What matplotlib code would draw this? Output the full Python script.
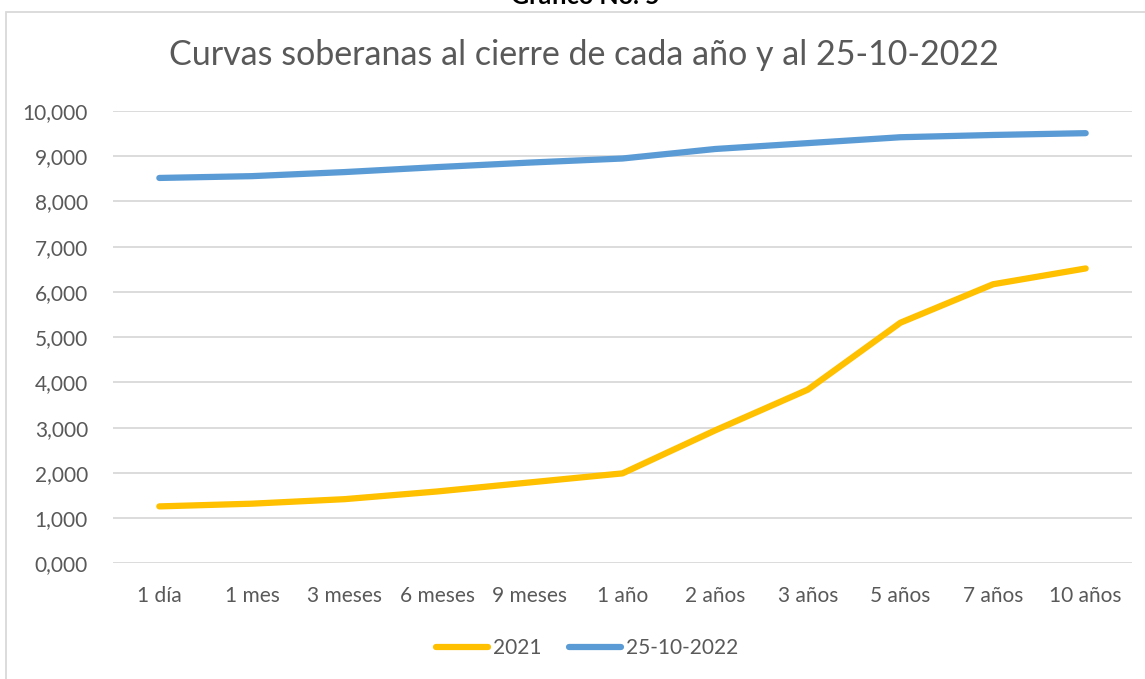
import matplotlib.pyplot as plt
from matplotlib.patches import Rectangle
from matplotlib.ticker import FuncFormatter

plt.rcParams['font.family'] = ['Lato', 'DejaVu Sans']

# Datos
plazos = ['1 día', '1 mes', '3 meses', '6 meses', '9 meses', '1 año',
          '2 años', '3 años', '5 años', '7 años', '10 años']
curva_2021 = [1.26, 1.32, 1.42, 1.59, 1.79, 1.99, 2.94, 3.84, 5.32, 6.17, 6.52]
curva_2022 = [8.52, 8.56, 8.65, 8.76, 8.86, 8.95, 9.16, 9.29, 9.42, 9.47, 9.51]

gris = '#595959'

fig = plt.figure(figsize=(11.45, 6.79), dpi=100)
ax = fig.add_axes([113 / 1145, 1 - 563.4 / 679, (1132 - 113) / 1145, (563.4 - 111) / 679])

# Marco del area del grafico
fig.patches.append(Rectangle((6 / 1145, -0.05), 1.2, 1 - 12 / 679 + 0.05,
                             transform=fig.transFigure, fill=False,
                             edgecolor='#d9d9d9', linewidth=1.3))

x = range(len(plazos))
ax.plot(x, curva_2021, color='#ffc000', linewidth=4.5, solid_capstyle='round',
        solid_joinstyle='round', label='2021')
ax.plot(x, curva_2022, color='#5b9bd5', linewidth=4.5, solid_capstyle='round',
        solid_joinstyle='round', label='25-10-2022')

ax.set_xlim(-0.5, len(plazos) - 0.5)
ax.set_ylim(0, 10)
ax.set_yticks(range(0, 11))
ax.yaxis.set_major_formatter(FuncFormatter(lambda v, p: f'{v:.3f}'.replace('.', ',')))
ax.set_xticks(list(x))
ax.set_xticklabels(plazos)
ax.tick_params(axis='both', length=0, labelsize=15, labelcolor=gris)
ax.tick_params(axis='y', pad=18)
ax.tick_params(axis='x', pad=16)
ax.grid(axis='y', color='#d9d9d9', linewidth=1.3)
ax.set_axisbelow(True)
for s in ax.spines.values():
    s.set_visible(False)

fig.text(583.5 / 1145, 1 - 55 / 679, 'Curvas soberanas al cierre de cada año y al 25-10-2022',
         ha='center', va='center', fontsize=24.5, color=gris)
fig.text(585 / 1145, 1 - 8 / 679, 'Grafico No. 5', ha='center', va='bottom',
         fontsize=18, fontweight='bold', color='black')

ax.legend(loc='center', bbox_to_anchor=(587 / 1145, 1 - 648 / 679), bbox_transform=fig.transFigure,
          ncol=2, frameon=False, fontsize=15, labelcolor=gris, handlelength=2.5,
          handletextpad=0.25, columnspacing=1.3)

fig.savefig('out.png', dpi=100)
